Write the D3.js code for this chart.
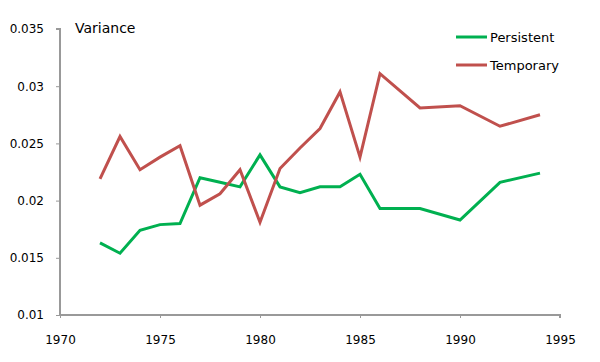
<!DOCTYPE html>
<html>
<head>
<meta charset="utf-8">
<script src="https://cdn.jsdelivr.net/npm/d3@7"></script>
<style>
  body { margin: 0; background: #fff; }
  text { font-family: "DejaVu Sans", Verdana, sans-serif; font-size: 13px; fill: #000; }
</style>
</head>
<body>
<div class="canvas"></div>
<script>
// data
const years = [1972,1973,1974,1975,1976,1977,1978,1979,1980,1981,1982,1983,1984,1985,1986,1988,1990,1992,1994]
const persistent = [0.0163,0.0154,0.0174,0.0179,0.0180,0.0220,0.0216,0.0212,0.0240,0.0212,0.0207,0.0212,0.0212,0.0223,0.0193,0.0193,0.0183,0.0216,0.0224]
const temporary = [0.0219,0.0256,0.0227,0.0238,0.0248,0.0196,0.0206,0.0227,0.0181,0.0228,0.0246,0.0263,0.0295,0.0238,0.0311,0.0281,0.0283,0.0265,0.0275]
const xTicks = [1970,1975,1980,1985,1990,1995]
const yTicks = [0.01,0.015,0.02,0.025,0.03,0.035]
const seriesNames = ['Persistent','Temporary']
const colors = ['#00b050','#c0504d']

const margin = {top:29, right:40, bottom:47, left:60}
const graphWidth = 600 - margin.left - margin.right
const graphHeight = 362 - margin.top - margin.bottom

const svg = d3.select('.canvas').append('svg').attr('width',600).attr('height',362)
const graph = svg.append('g').attr('transform',`translate(${margin.left},${margin.top})`)

// scales
const x = d3.scaleLinear().domain([1970,1995]).range([0,graphWidth])
const y = d3.scaleLinear().domain([0.01,0.035]).range([graphHeight,0])

// axes
const xAxis = d3.axisBottom(x).tickValues(xTicks).tickFormat(d3.format('d')).tickSize(3).tickPadding(17)
const yAxis = d3.axisLeft(y).tickValues(yTicks).tickFormat(d => String(+d.toFixed(3))).tickSize(4).tickPadding(12)

const xAxisGroup = graph.append('g').attr('transform',`translate(0,${graphHeight})`).call(xAxis)
const yAxisGroup = graph.append('g').call(yAxis)

graph.selectAll('.domain').attr('stroke','#999').attr('stroke-width',2)
graph.selectAll('.tick line').attr('stroke','#999')
graph.selectAll('.tick text').style('font-family','"DejaVu Sans", Verdana, sans-serif').style('font-size','12px').attr('fill','#000')
yAxisGroup.selectAll('.domain').attr('d',`M-4,0H0V${graphHeight}`)
xAxisGroup.selectAll('.domain').attr('d',`M0,0H${graphWidth}V3`)

// lines
const line = d3.line().x((d,i) => x(years[i])).y(d => y(d))
;[persistent,temporary].forEach((s,k) => {
  graph.append('path').datum(s)
    .attr('fill','none').attr('stroke',colors[k]).attr('stroke-width',3)
    .attr('stroke-linejoin','miter').attr('d',line)
})

// title
svg.append('text').attr('x',75).attr('y',33).style('font-size','14px').text('Variance')

// legend
seriesNames.forEach((name,k) => {
  const ly = 37 + k*28
  svg.append('line').attr('x1',456).attr('x2',487).attr('y1',ly).attr('y2',ly)
    .attr('stroke',colors[k]).attr('stroke-width',3)
  svg.append('text').attr('x',490).attr('y',ly+5).text(name)
})
</script>
</body>
</html>
